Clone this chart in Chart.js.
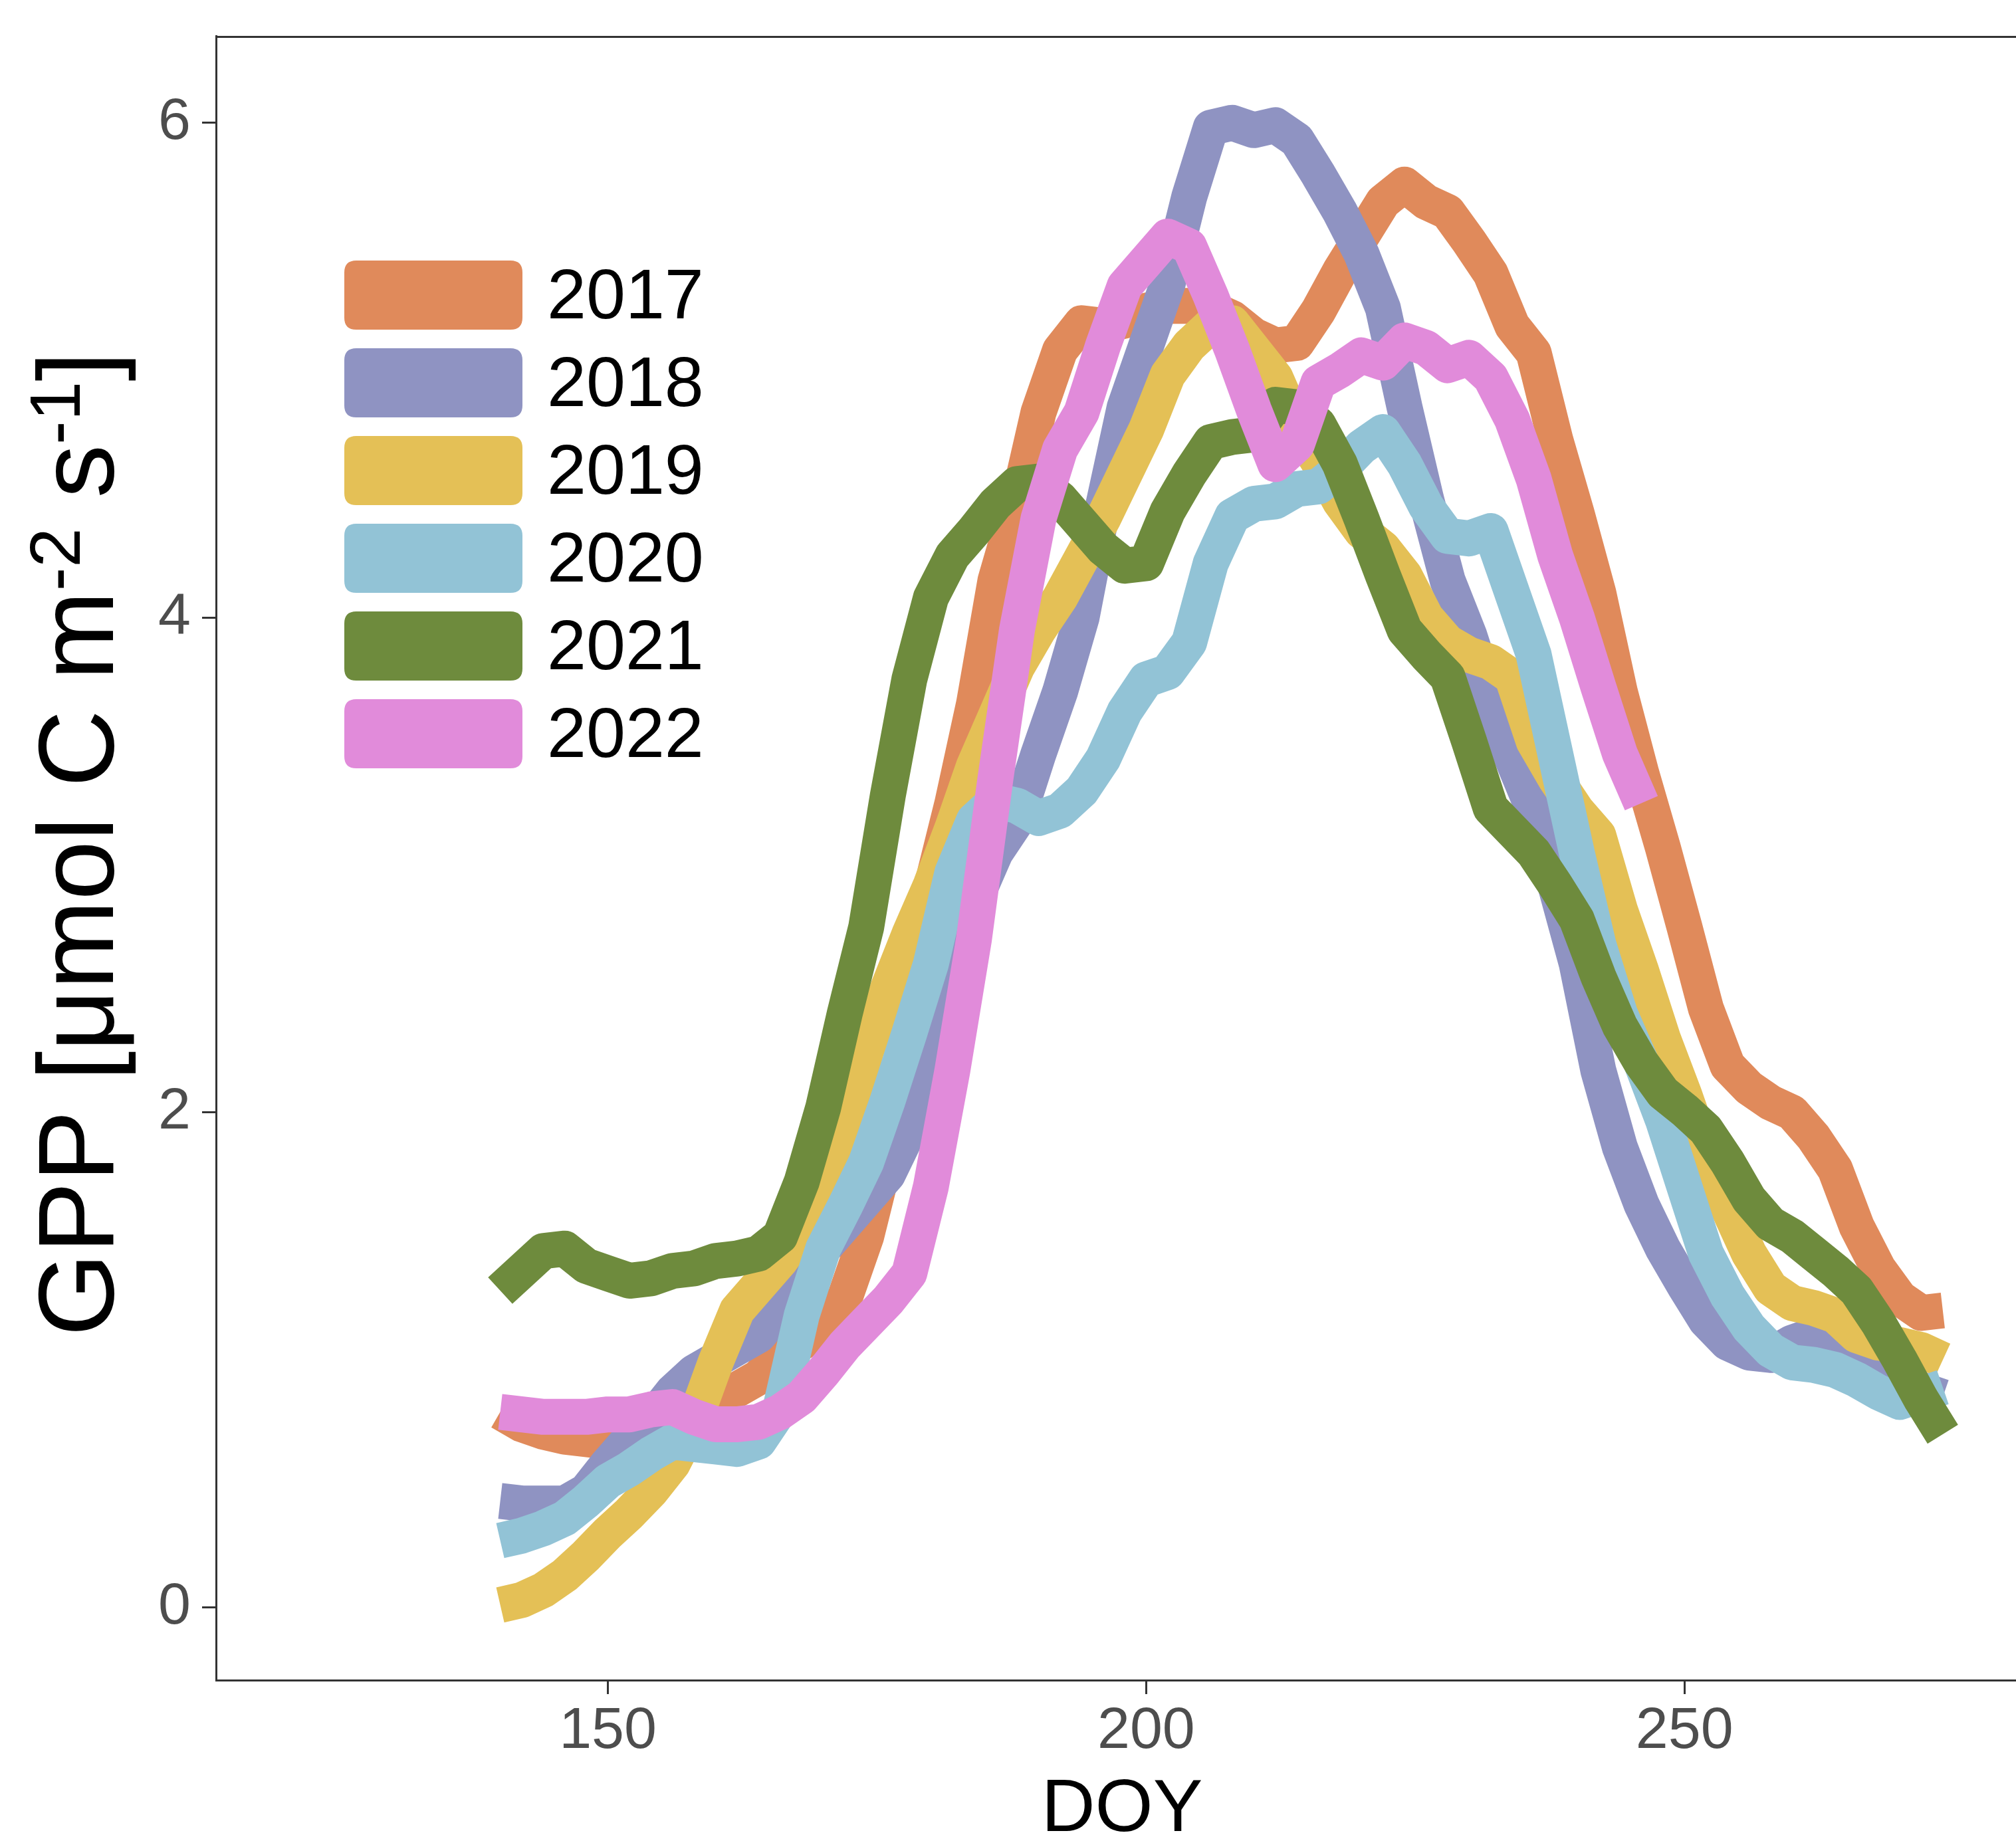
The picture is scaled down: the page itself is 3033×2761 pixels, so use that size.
<!DOCTYPE html>
<html>
<head>
<meta charset="utf-8">
<title>GPP by DOY</title>
<script src="https://cdn.jsdelivr.net/npm/chart.js@4.4.1/dist/chart.umd.min.js"></script>
<style>
  html, body { margin: 0; padding: 0; background: #ffffff; }
  #wrap { width: 3033px; height: 2761px; }
</style>
</head>
<body>
<div id="wrap"><canvas id="gpp-chart" width="3033" height="2761"></canvas></div>
<script>
// day of year (every second day)
var doy = [140, 142, 144, 146, 148, 150, 152, 154, 156, 158,
           160, 162, 164, 166, 168, 170, 172, 174, 176, 178,
           180, 182, 184, 186, 188, 190, 192, 194, 196, 198,
           200, 202, 204, 206, 208, 210, 212, 214, 216, 218,
           220, 222, 224, 226, 228, 230, 232, 234, 236, 238,
           240, 242, 244, 246, 248, 250, 252, 254, 256, 258,
           260, 262, 264, 266, 268, 270, 272, 274];

var years = ["2017", "2018", "2019", "2020", "2021", "2022"];

var gpp2017 = [0.79, 0.74, 0.71, 0.69, 0.68, 0.67, 0.68, 0.70, 0.73, 0.78,
               0.84, 0.88, 0.93, 1.02, 1.07, 1.16, 1.25, 1.50, 1.85, 2.40,
               2.90, 3.25, 3.65, 4.15, 4.45, 4.83, 5.08, 5.19, 5.18, 5.20,
               5.24, 5.26, 5.26, 5.25, 5.21, 5.14, 5.10, 5.11, 5.24, 5.40,
               5.54, 5.68, 5.75, 5.68, 5.64, 5.52, 5.39, 5.18, 5.07, 4.72,
               4.42, 4.10, 3.70, 3.37, 3.07, 2.75, 2.42, 2.19, 2.10, 2.04,
               2.00, 1.90, 1.77, 1.54, 1.37, 1.25, 1.19, 1.20];

var gpp2018 = [0.43, 0.42, 0.42, 0.42, 0.47, 0.58, 0.68, 0.76, 0.87, 0.95,
               1.00, 1.05, 1.10, 1.20, 1.34, 1.45, 1.55, 1.65, 1.75, 1.93,
               2.12, 2.55, 2.85, 3.05, 3.18, 3.45, 3.70, 4.00, 4.45, 4.85,
               5.10, 5.35, 5.70, 5.98, 6.00, 5.97, 5.99, 5.93, 5.79, 5.64,
               5.47, 5.25, 4.85, 4.48, 4.15, 3.93, 3.66, 3.43, 3.22, 2.92,
               2.60, 2.17, 1.86, 1.63, 1.45, 1.30, 1.16, 1.07, 1.03, 1.02,
               1.07, 1.10, 1.08, 1.02, 0.97, 0.92, 0.88, 0.85];

var gpp2019 = [0.01, 0.03, 0.07, 0.13, 0.21, 0.30, 0.38, 0.47, 0.58, 0.75,
               0.99, 1.20, 1.30, 1.40, 1.52, 1.70, 1.95, 2.25, 2.50, 2.72,
               2.92, 3.15, 3.40, 3.60, 3.80, 3.95, 4.08, 4.24, 4.40, 4.58,
               4.76, 4.98, 5.10, 5.18, 5.19, 5.08, 4.97, 4.77, 4.63, 4.47,
               4.35, 4.28, 4.17, 4.00, 3.90, 3.85, 3.82, 3.76, 3.50, 3.35,
               3.22, 3.12, 2.82, 2.57, 2.30, 2.07, 1.82, 1.62, 1.43, 1.29,
               1.23, 1.21, 1.18, 1.10, 1.07, 1.06, 1.04, 1.00];

var gpp2020 = [0.27, 0.29, 0.32, 0.36, 0.43, 0.51, 0.56, 0.62, 0.67, 0.66,
               0.65, 0.64, 0.67, 0.80, 1.18, 1.45, 1.62, 1.80, 2.05, 2.32,
               2.60, 2.97, 3.18, 3.26, 3.24, 3.19, 3.22, 3.30, 3.43, 3.62,
               3.75, 3.78, 3.90, 4.22, 4.41, 4.46, 4.47, 4.52, 4.53, 4.60,
               4.69, 4.75, 4.62, 4.45, 4.33, 4.32, 4.35, 4.10, 3.85, 3.45,
               3.05, 2.68, 2.40, 2.20, 1.97, 1.70, 1.43, 1.26, 1.13, 1.04,
               0.99, 0.98, 0.96, 0.92, 0.87, 0.83, 0.86, 0.89];

var gpp2021 = [1.28, 1.36, 1.44, 1.45, 1.38, 1.35, 1.32, 1.33, 1.36, 1.37,
               1.40, 1.41, 1.43, 1.50, 1.72, 2.02, 2.40, 2.75, 3.28, 3.75,
               4.08, 4.25, 4.35, 4.46, 4.54, 4.55, 4.48, 4.38, 4.28, 4.21,
               4.22, 4.43, 4.58, 4.71, 4.73, 4.74, 4.86, 4.85, 4.78, 4.62,
               4.40, 4.17, 3.95, 3.85, 3.76, 3.50, 3.23, 3.14, 3.05, 2.92,
               2.78, 2.55, 2.35, 2.20, 2.08, 2.01, 1.93, 1.80, 1.65, 1.55,
               1.50, 1.43, 1.36, 1.28, 1.15, 1.00, 0.84, 0.70];

var gpp2022 = [0.79, 0.78, 0.77, 0.77, 0.77, 0.78, 0.78, 0.80, 0.81, 0.77,
               0.74, 0.74, 0.75, 0.79, 0.85, 0.95, 1.06, 1.15, 1.24, 1.35,
               1.70, 2.17, 2.70, 3.35, 3.95, 4.40, 4.68, 4.83, 5.10, 5.34,
               5.44, 5.54, 5.50, 5.30, 5.08, 4.84, 4.62, 4.70, 4.95, 5.00,
               5.06, 5.03, 5.12, 5.09, 5.02, 5.05, 4.97, 4.80, 4.56, 4.25,
               4.00, 3.72, 3.45, 3.25, null, null, null, null, null, null,
               null, null, null, null, null, null, null, null];

var xTicks = [150, 200, 250];
var yTicks = [0, 2, 4, 6];

var seriesValues = [gpp2017, gpp2018, gpp2019, gpp2020, gpp2021, gpp2022];
var lineColors = ["#E08A5B", "#8F93C2", "#E4C056", "#92C3D6", "#6E8B3D", "#E18BDA"];

var FONT = "'Liberation Sans', Arial, Helvetica, sans-serif";
var AXIS_COLOR = "#333333";

function toPoints(values) {
    return values.map(function (v, i) {
        return { x: doy[i], y: v };
    });
}

function roundedBox(ctx, x, y, w, h, r) {
    ctx.beginPath();
    ctx.moveTo(x + r, y);
    ctx.lineTo(x + w - r, y);
    ctx.quadraticCurveTo(x + w, y, x + w, y + r);
    ctx.lineTo(x + w, y + h - r);
    ctx.quadraticCurveTo(x + w, y + h, x + w - r, y + h);
    ctx.lineTo(x + r, y + h);
    ctx.quadraticCurveTo(x, y + h, x, y + h - r);
    ctx.lineTo(x, y + r);
    ctx.quadraticCurveTo(x, y, x + r, y);
    ctx.closePath();
}

// top border, legend and axis titles (ggplot style)
var decorations = {
    id: "decorations",
    afterDraw: function (chart) {
        var ctx = chart.ctx;
        var area = chart.chartArea;
        ctx.save();

        ctx.strokeStyle = AXIS_COLOR;
        ctx.lineWidth = 3;
        ctx.beginPath();
        ctx.moveTo(area.left, area.top + 1.5);
        ctx.lineTo(chart.width, area.top + 1.5);
        ctx.stroke();

        // legend inside the panel
        ctx.font = "106px " + FONT;
        ctx.textAlign = "left";
        ctx.textBaseline = "alphabetic";
        years.forEach(function (yr, i) {
            var top = 392 + i * 132;
            ctx.fillStyle = lineColors[i];
            roundedBox(ctx, 518, top, 268, 104, 18);
            ctx.fill();
            ctx.fillStyle = "#000000";
            ctx.fillText(yr, 823, top + 87);
        });

        // x title
        ctx.font = "112px " + FONT;
        ctx.textAlign = "center";
        ctx.fillStyle = "#000000";
        ctx.fillText("DOY", 1688, 2755);

        // y title with superscripts
        var big = "161px " + FONT, small = "107px " + FONT;
        var parts = [
            ["GPP [\u03bcmol C m", big, 0],
            ["-2", small, -50],
            [" s", big, 0],
            ["-1", small, -50],
            ["]", big, 0]
        ];
        var total = 0;
        parts.forEach(function (p) { ctx.font = p[1]; p.push(ctx.measureText(p[0]).width); total += p[3]; });
        ctx.translate(170, 1270);
        ctx.rotate(-Math.PI / 2);
        ctx.textAlign = "left";
        var x = -total / 2;
        parts.forEach(function (p) {
            ctx.font = p[1];
            ctx.fillText(p[0], x, p[2]);
            x += p[3];
        });

        ctx.restore();
    }
};

function renderChart() {
    var datasets = years.map(function (yr, i) {
        return {
            label: yr,
            data: toPoints(seriesValues[i]),
            borderColor: lineColors[i],
            backgroundColor: lineColors[i],
            borderWidth: 54,
            borderCapStyle: "butt",
            borderJoinStyle: "round",
            pointRadius: 0,
            tension: 0,
            fill: false,
            spanGaps: false,
            order: years.length - 1 - i
        };
    });

    new Chart(document.getElementById("gpp-chart"), {
        type: "line",
        data: { datasets: datasets },
        plugins: [decorations],
        options: {
            responsive: false,
            devicePixelRatio: 1,
            animation: false,
            layout: { padding: { top: 54, left: 0, right: 0, bottom: 0 } },
            plugins: {
                legend: { display: false },
                tooltip: { enabled: false }
            },
            scales: {
                x: {
                    type: "linear",
                    position: "bottom",
                    min: 113.6,
                    max: 280.8,
                    afterBuildTicks: function (scale) {
                        scale.ticks = xTicks.map(function (v) { return { value: v }; });
                    },
                    afterFit: function (scale) {
                        scale.height = 233;
                        scale.paddingLeft = 0;
                        scale.paddingRight = 0;
                    },
                    border: { display: true, color: AXIS_COLOR, width: 3 },
                    grid: { display: true, drawOnChartArea: false, drawTicks: true,
                            tickLength: 21, tickWidth: 3, tickColor: AXIS_COLOR },
                    ticks: { color: "#4D4D4D", padding: 4, maxRotation: 0,
                             font: { family: FONT, size: 88 } }
                },
                y: {
                    type: "linear",
                    position: "left",
                    min: -0.294,
                    max: 6.351,
                    afterBuildTicks: function (scale) {
                        scale.ticks = yTicks.map(function (v) { return { value: v }; });
                    },
                    afterFit: function (scale) {
                        scale.width = 325;
                        scale.paddingTop = 0;
                        scale.paddingBottom = 0;
                    },
                    border: { display: true, color: AXIS_COLOR, width: 3 },
                    grid: { display: true, drawOnChartArea: false, drawTicks: true,
                            tickLength: 21, tickWidth: 3, tickColor: AXIS_COLOR },
                    ticks: { color: "#4D4D4D", padding: 17,
                             font: { family: FONT, size: 88 } }
                }
            }
        }
    });
}

renderChart();
</script>
</body>
</html>
